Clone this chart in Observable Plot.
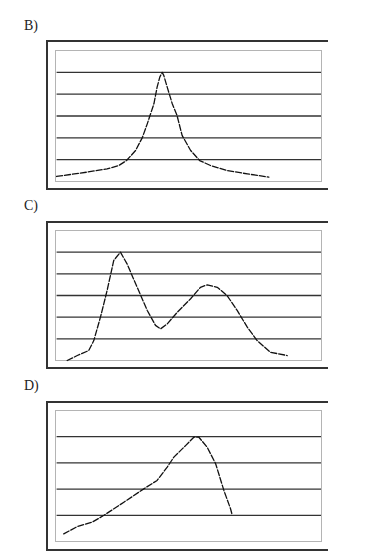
<!DOCTYPE html>
<html><head><meta charset="utf-8">
<script src="https://cdn.jsdelivr.net/npm/d3@7"></script>
<script src="https://cdn.jsdelivr.net/npm/@observablehq/plot@0.6"></script>
<style>
body{margin:0;background:#fff;}
#root{position:relative;width:382px;height:557px;font-family:"Liberation Serif","DejaVu Serif",serif;overflow:hidden;}
.lbl{position:absolute;left:24px;font-size:14px;line-height:14px;color:#222;}
.frame{position:absolute;left:46px;width:282px;border-top:2px solid #333;border-left:2px solid #333;border-bottom:2px solid #333;box-sizing:border-box;}
.plot{position:absolute;left:0;top:0;}
</style></head><body><div id="root"></div>
<script>
// Panel labels
const labels = ["B)", "C)", "D)"];

// Panel B curve
const bX = [0.4, 5.6, 11.9, 19.4, 23.8, 26.7, 30.1, 32.6, 34.5, 37.0, 38.2, 39.2, 40.1, 40.7, 42.0, 43.9, 45.7, 47.6, 50.8, 54.2, 58.3, 64.5, 72.1, 80.2];
const bY = [0.23, 0.32, 0.43, 0.58, 0.73, 0.96, 1.42, 2.0, 2.64, 3.56, 4.32, 4.78, 5.0, 4.86, 4.32, 3.56, 3.02, 2.11, 1.42, 0.96, 0.73, 0.5, 0.35, 0.2];

// Panel C curve
const cX = [4.4, 8.2, 12.5, 14.4, 16.9, 19.4, 21.9, 24.4, 26.9, 30.7, 34.5, 37.6, 39.5, 42.0, 45.8, 50.8, 54.5, 57.0, 60.8, 64.5, 68.3, 72.1, 75.8, 80.8, 87.1];
const cY = [0, 0.23, 0.46, 0.92, 2.0, 3.23, 4.62, 5.0, 4.46, 3.38, 2.31, 1.62, 1.46, 1.69, 2.23, 2.85, 3.38, 3.49, 3.38, 3.0, 2.31, 1.54, 0.92, 0.38, 0.23];

// Panel D curve
const dX = [3.1, 8.2, 13.8, 18.2, 25.7, 33.2, 38.2, 42.0, 44.5, 48.9, 52.0, 53.9, 57.0, 60.2, 63.3, 65.8, 66.4];
const dY = [0.29, 0.57, 0.74, 1.0, 1.5, 2.01, 2.33, 2.84, 3.22, 3.66, 3.98, 3.98, 3.6, 2.97, 1.95, 1.25, 1.02];

// Gridline levels and y extents
const bGrid = [1, 2, 3, 4, 5], bMax = 6;
const cGrid = [1, 2, 3, 4, 5], cMax = 6;
const dGrid = [1, 2, 3, 4], dMax = 5;
const xMax = 100;

const panels = [
  {label: labels[0], xs: bX, ys: bY, grid: bGrid, ymax: bMax, lblTop: 19, fTop: 40, fBot: 190, pTop: 50, pBot: 181},
  {label: labels[1], xs: cX, ys: cY, grid: cGrid, ymax: cMax, lblTop: 199, fTop: 221, fBot: 369, pTop: 230, pBot: 360},
  {label: labels[2], xs: dX, ys: dY, grid: dGrid, ymax: dMax, lblTop: 379, fTop: 401, fBot: 551, pTop: 410, pBot: 541}
];

const root = document.getElementById("root");
for (const p of panels) {
  const lbl = document.createElement("div");
  lbl.className = "lbl";
  lbl.style.top = p.lblTop + "px";
  lbl.textContent = p.label;
  root.appendChild(lbl);

  const fr = document.createElement("div");
  fr.className = "frame";
  fr.style.top = p.fTop + "px";
  fr.style.height = (p.fBot - p.fTop) + "px";
  root.appendChild(fr);

  const data = p.xs.map((x, i) => ({x, y: p.ys[i]}));
  const chart = Plot.plot({
    width: 382,
    height: p.pBot - p.pTop + 20,
    marginTop: 10, marginBottom: 10, marginLeft: 55, marginRight: 61,
    x: {domain: [0, xMax], axis: null},
    y: {domain: [0, p.ymax], axis: null},
    style: {background: "transparent", overflow: "visible"},
    marks: [
      Plot.frame({stroke: "#444", strokeDasharray: "1,1", strokeWidth: 1, strokeOpacity: 0.8}),
      Plot.ruleY(p.grid, {stroke: "#333", strokeWidth: 1.3, x1: 0.6, x2: xMax}),
      Plot.line(data, {x: "x", y: "y", stroke: "#111", strokeWidth: 1.3, strokeDasharray: "6,2"})
    ]
  });
  const wrap = document.createElement("div");
  wrap.className = "plot";
  wrap.style.top = (p.pTop - 10) + "px";
  wrap.appendChild(chart);
  root.appendChild(wrap);
}
</script>
</body></html>
